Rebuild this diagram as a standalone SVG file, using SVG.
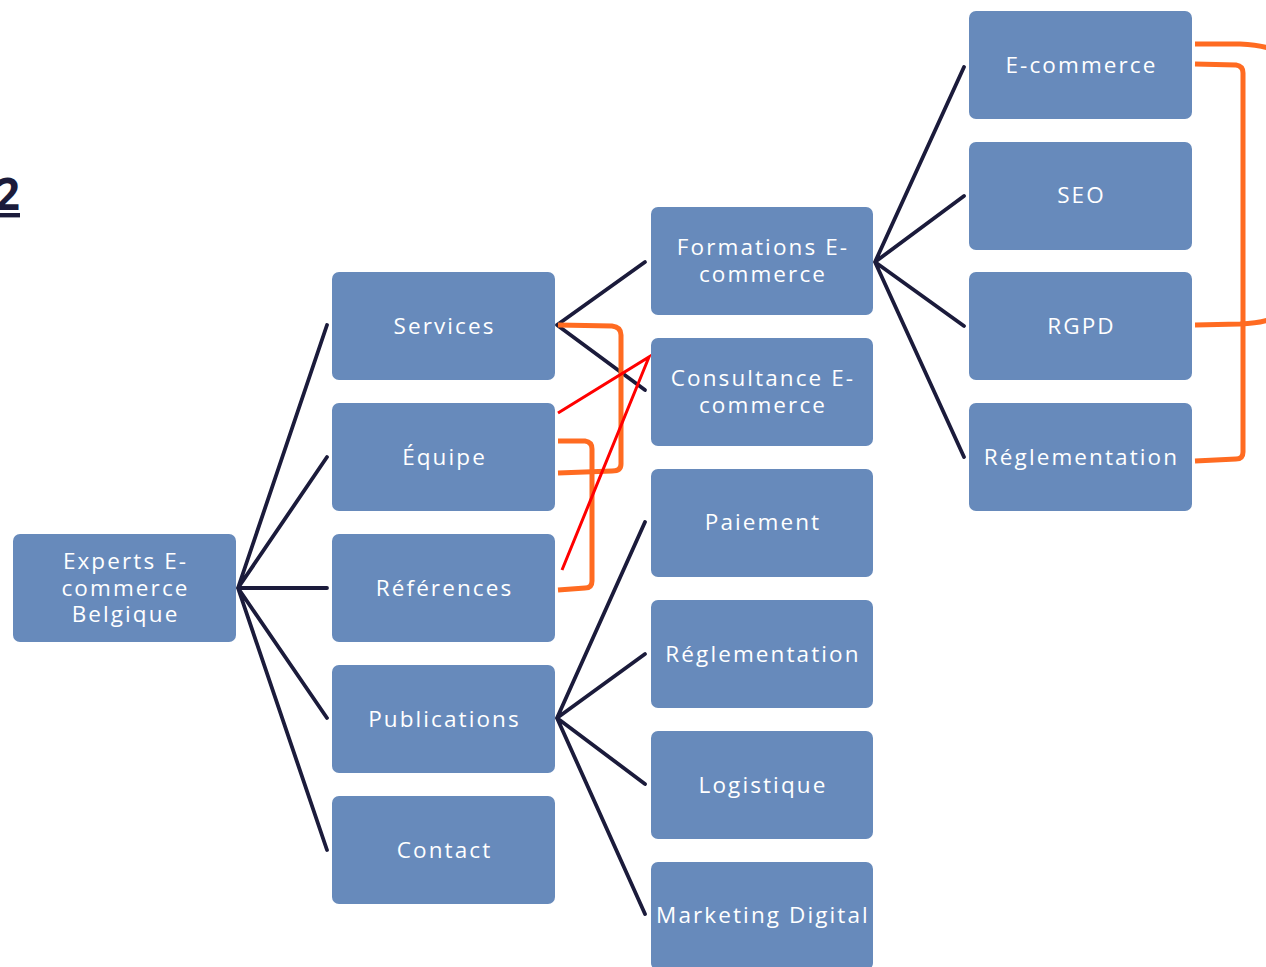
<svg xmlns="http://www.w3.org/2000/svg" width="1266" height="967" viewBox="0 0 1266 967">
<style>
.n{fill:#678ABB;}
.t{fill:#ffffff;font-family:"Open Sans","Liberation Sans",sans-serif;font-size:22.5px;letter-spacing:2.1px;text-anchor:middle;dominant-baseline:central;}
.c{stroke:#1b1b3b;stroke-width:3.8;fill:none;stroke-linecap:round;}
.o{stroke:#ff6b21;stroke-width:5;fill:none;}
.r{stroke:#ff0000;stroke-width:3;fill:none;}
</style>
<rect width="1266" height="967" fill="#ffffff"/>
<text x="20" y="210" font-family="'Open Sans','Liberation Sans',sans-serif" font-size="44" font-weight="bold" fill="#1b1b3b" text-anchor="end" text-decoration="underline">2</text>
<g id="connectors">
<path class="c" d="M238,588 L327,325 M238,588 L327,457 M238,588 L327,588 M238,588 L327,718 M238,588 L327,850"/>
<path class="c" d="M557,325 L645,262 M557,325 L645,390"/>
<path class="c" d="M557,718 L645,522 M557,718 L645,654 M557,718 L645,784 M557,718 L645,914"/>
<path class="c" d="M875,262 L964,67 M875,262 L964,196 M875,262 L964,326 M875,262 L964,457"/>
<path class="o" d="M558,325 L612,326 Q621,327 621,335 L621,464 Q621,471 612,471 L558,473"/>
<path class="o" d="M558,441 L585,441 Q592,442 592,449 L592,581 Q592,588 585,588 L558,590"/>
<path class="o" d="M1195,64 L1236,65 Q1243,66 1243,73 L1243,452 Q1243,459 1236,459 L1195,461"/>
<path class="o" d="M1195,44 L1240,44 Q1258,45 1268,48"/>
<path class="o" d="M1195,325 L1240,324 Q1258,323 1268,320"/>
<path class="r" d="M558,413 L649,357 L562,570"/>
</g>
<g id="root"><rect class="n" x="13" y="534" width="223" height="108" rx="7"/><text class="t"><tspan x="125.5" y="560">Experts E-</tspan><tspan x="125.5" y="586.5">commerce</tspan><tspan x="125.5" y="613">Belgique</tspan></text></g>
<g id="services"><rect class="n" x="332" y="272" width="223" height="108" rx="7"/><text class="t" x="444.5" y="325">Services</text></g>
<g id="equipe"><rect class="n" x="332" y="403" width="223" height="108" rx="7"/><text class="t" x="444.5" y="456">Équipe</text></g>
<g id="references"><rect class="n" x="332" y="534" width="223" height="108" rx="7"/><text class="t" x="444.5" y="587">Références</text></g>
<g id="publications"><rect class="n" x="332" y="665" width="223" height="108" rx="7"/><text class="t" x="444.5" y="718">Publications</text></g>
<g id="contact"><rect class="n" x="332" y="796" width="223" height="108" rx="7"/><text class="t" x="444.5" y="849">Contact</text></g>
<g id="formations"><rect class="n" x="651" y="207" width="222" height="108" rx="7"/><text class="t"><tspan x="763" y="246">Formations E-</tspan><tspan x="763" y="273">commerce</tspan></text></g>
<g id="consultance"><rect class="n" x="651" y="338" width="222" height="108" rx="7"/><text class="t"><tspan x="763" y="377">Consultance E-</tspan><tspan x="763" y="404">commerce</tspan></text></g>
<g id="paiement"><rect class="n" x="651" y="469" width="222" height="108" rx="7"/><text class="t" x="763" y="521">Paiement</text></g>
<g id="reglementation1"><rect class="n" x="651" y="600" width="222" height="108" rx="7"/><text class="t" x="763" y="653">Réglementation</text></g>
<g id="logistique"><rect class="n" x="651" y="731" width="222" height="108" rx="7"/><text class="t" x="763" y="784">Logistique</text></g>
<g id="marketing"><rect class="n" x="651" y="862" width="222" height="108" rx="7"/><text class="t" x="763" y="914">Marketing Digital</text></g>
<g id="ecommerce"><rect class="n" x="969" y="11" width="223" height="108" rx="7"/><text class="t" x="1081.5" y="64">E-commerce</text></g>
<g id="seo"><rect class="n" x="969" y="142" width="223" height="108" rx="7"/><text class="t" x="1081.5" y="194">SEO</text></g>
<g id="rgpd"><rect class="n" x="969" y="272" width="223" height="108" rx="7"/><text class="t" x="1081.5" y="325">RGPD</text></g>
<g id="reglementation2"><rect class="n" x="969" y="403" width="223" height="108" rx="7"/><text class="t" x="1081.5" y="456">Réglementation</text></g>
</svg>
